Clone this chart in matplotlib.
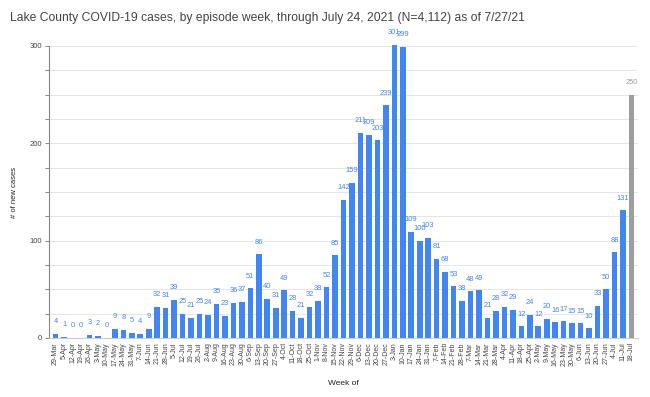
import matplotlib
matplotlib.use("Agg")
import matplotlib.pyplot as plt
import numpy as np

weeks = ["29-Mar", "5-Apr", "12-Apr", "19-Apr", "26-Apr", "3-May", "10-May", "17-May", "24-May",
         "31-May", "7-Jun", "14-Jun", "21-Jun", "28-Jun", "5-Jul", "12-Jul", "19-Jul", "26-Jul",
         "2-Aug", "9-Aug", "16-Aug", "23-Aug", "30-Aug", "6-Sep", "13-Sep", "20-Sep", "27-Sep",
         "4-Oct", "11-Oct", "18-Oct", "25-Oct", "1-Nov", "8-Nov", "15-Nov", "22-Nov", "29-Nov",
         "6-Dec", "13-Dec", "20-Dec", "27-Dec", "3-Jan", "10-Jan", "17-Jan", "24-Jan", "31-Jan",
         "7-Feb", "14-Feb", "21-Feb", "28-Feb", "7-Mar", "14-Mar", "21-Mar", "28-Mar", "4-Apr",
         "11-Apr", "18-Apr", "25-Apr", "2-May", "9-May", "16-May", "23-May", "30-May", "6-Jun",
         "13-Jun", "20-Jun", "27-Jun", "4-Jul", "11-Jul", "18-Jul"]
cases = [4, 1, 0, 0, 3, 2, 0, 9, 8, 5, 4, 9, 32, 31, 39, 25, 21, 25, 24, 35, 23, 36, 37, 51, 86,
         40, 31, 49, 28, 21, 32, 38, 52, 85, 142, 159, 211, 209, 203, 239, 301, 299, 109, 100,
         103, 81, 68, 53, 38, 48, 49, 21, 28, 32, 29, 12, 24, 12, 20, 16, 17, 15, 15, 10, 33,
         50, 88, 131, 250]
incomplete = [False] * (len(cases) - 1) + [True]

title = "Lake County COVID-19 cases, by episode week, through July 24, 2021 (N=4,112) as of 7/27/21"
blue = "#4285f4"
gray = "#9e9e9e"

plt.rcParams['font.family'] = ['Liberation Sans', 'DejaVu Sans']
fig = plt.figure(figsize=(6.5, 3.97), dpi=100)
ax = fig.add_axes([49/650, 1 - 338/397, (638 - 49)/650, (338 - 46)/397])

x = np.arange(len(cases))
colors = [gray if inc else blue for inc in incomplete]
ax.bar(x, cases, width=0.66, color=colors, zorder=3, clip_on=False)
for xi, v, c in zip(x, cases, colors):
    ax.text(xi, v + 9, str(v), ha='center', va='bottom', fontsize=5.4, color=c, zorder=4)

ax.set_xlim(-0.78, len(cases) - 0.22)
ax.set_ylim(0, 300)
ax.set_yticks([0, 100, 200, 300])
ax.set_yticks(np.arange(0, 301, 25), minor=True)
ax.yaxis.grid(True, which='both', color='#e6e6e6', lw=0.7, zorder=0)
ax.tick_params(axis='y', which='both', length=3, color='#888888', width=0.7,
               labelsize=5.5, labelcolor='#444444', pad=2)
ax.set_xticks(x)
ax.set_xticklabels(weeks, rotation=90, fontsize=5, color='#444444')
ax.tick_params(axis='x', length=0, pad=3)
for s in ['top', 'right']:
    ax.spines[s].set_visible(False)
ax.spines['left'].set_color('#888888')
ax.spines['left'].set_linewidth(0.8)
ax.spines['bottom'].set_color('#cccccc')
ax.spines['bottom'].set_linewidth(0.8)

ax.set_ylabel("# of new cases", fontsize=5.5, color='#222222', labelpad=8)
ax.set_xlabel("Week of", fontsize=6, color='#222222', labelpad=10)
fig.text(10/650, 1 - 18/397, title, fontsize=8.7, color='#444444', va='center', ha='left')

fig.savefig("out.png", dpi=100)
